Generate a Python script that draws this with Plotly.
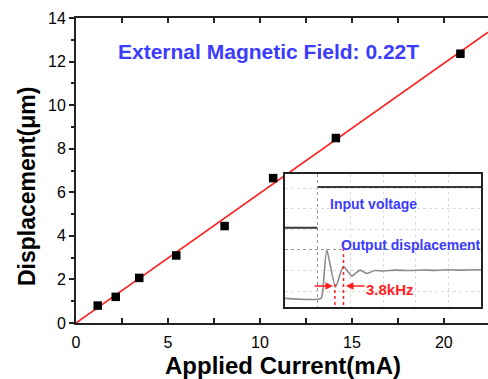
import plotly.graph_objects as go

# ---- main data ----
current_mA = [1.18, 2.16, 3.44, 5.45, 8.08, 10.72, 14.13, 20.9]
displacement_um = [0.80, 1.20, 2.07, 3.10, 4.45, 6.65, 8.49, 12.36]
fit_x = [0, 22.4]
fit_y = [0, 13.35]

x_ticks = [0, 5, 10, 15, 20]
y_ticks = [0, 2, 4, 6, 8, 10, 12, 14]

# ---- inset (oscilloscope) data, in screen divisions ----
input_x = [-1.02, -0.02, None, 0.0, 5.02]
input_y = [1.08, 1.08, None, 3.06, 3.06]
output_x = [-1.02, 0.09, 0.15, 0.27, 0.54, 0.78, 1.04, 1.29, 1.50, 1.75, 2.0, 2.4, 2.8, 3.2, 3.6, 4.0, 4.4, 4.8, 5.02]
output_y = [-2.35, -2.35, -1.94, 0.0, -1.80, -0.80, -1.26, -0.98, -1.14, -1.00, -1.02, -0.98, -1.00, -0.97, -0.99, -0.96, -0.98, -0.96, -0.97]
marker1_x = [0.52, 0.52]
marker1_y = [-2.67, -1.55]
marker2_x = [0.785, 0.785]
marker2_y = [-2.67, 0.34]
grid_major = [0]
grid_minor_x = [1, 2, 3, 4, 5]
grid_minor_y = [-2, -1, 1, 2, 3]

FONT = "Liberation Sans, Arial, sans-serif"
BLUE = "#3c3cff"
RED = "#ff1f1f"

fig = go.Figure()
fig.add_trace(go.Scatter(x=fit_x, y=fit_y, mode="lines",
                         line=dict(color=RED, width=1.6), showlegend=False))
fig.add_trace(go.Scatter(x=current_mA, y=displacement_um, mode="markers",
                         marker=dict(symbol="square", size=8.5, color="black"),
                         showlegend=False))

# inset traces
fig.add_trace(go.Scatter(x=input_x, y=input_y, xaxis="x2", yaxis="y2", mode="lines",
                         line=dict(color="#383838", width=2), showlegend=False))
fig.add_trace(go.Scatter(x=output_x, y=output_y, xaxis="x2", yaxis="y2", mode="lines",
                         line=dict(color="#8a8a8a", width=1.6, shape="spline", smoothing=0.6),
                         showlegend=False))
for mx, my in [(marker1_x, marker1_y), (marker2_x, marker2_y)]:
    fig.add_trace(go.Scatter(x=mx, y=my, xaxis="x2", yaxis="y2", mode="lines",
                             line=dict(color=RED, width=1.5, dash="dot"), showlegend=False))

annotations = [
    dict(text="<b>External Magnetic Field: 0.22T</b>", xref="paper", yref="paper",
         x=(268.5 - 76) / 412, y=(323 - 52) / 305, xanchor="center", yanchor="middle",
         showarrow=False, font=dict(family=FONT, size=21, color=BLUE)),
    dict(text="<b>Applied Current(mA)</b>", xref="paper", yref="paper",
         x=(283 - 76) / 412, y=(323 - 365) / 305, xanchor="center", yanchor="middle",
         showarrow=False, font=dict(family=FONT, size=24, color="black")),
    dict(text="<b>Displacement(μm)</b>", xref="paper", yref="paper",
         x=(27 - 76) / 412, y=(323 - 187) / 305, xanchor="center", yanchor="middle",
         textangle=-90, showarrow=False, font=dict(family=FONT, size=23, color="black")),
    dict(text="<b>Input voltage</b>", xref="x2", yref="y2", x=0.31, y=2.23,
         xanchor="left", yanchor="middle", showarrow=False,
         font=dict(family=FONT, size=14, color=BLUE)),
    dict(text="<b>Output displacement</b>", xref="x2", yref="y2", x=0.66, y=0.24,
         xanchor="left", yanchor="middle", showarrow=False,
         font=dict(family=FONT, size=14, color=BLUE)),
    dict(text="<b>3.8kHz</b>", xref="x2", yref="y2", x=2.22, y=-1.94,
         xanchor="center", yanchor="middle", showarrow=False,
         font=dict(family=FONT, size=15, color=RED)),
    dict(text="", xref="x2", yref="y2", x=0.46, y=-1.75, ax=-0.15, ay=-1.75,
         axref="x2", ayref="y2", showarrow=True, arrowhead=2, arrowsize=1,
         arrowwidth=1.5, arrowcolor=RED),
    dict(text="", xref="x2", yref="y2", x=0.86, y=-1.75, ax=1.48, ay=-1.75,
         axref="x2", ayref="y2", showarrow=True, arrowhead=2, arrowsize=1,
         arrowwidth=1.5, arrowcolor=RED),
]

fig.update_layout(
    width=488, height=379,
    margin=dict(l=76, r=0, t=18, b=56),
    paper_bgcolor="white", plot_bgcolor="white",
    font=dict(family=FONT, size=16, color="black"),
    xaxis=dict(range=[0, 22.4], tickvals=x_ticks, ticks="inside", ticklen=5, tickwidth=1.5,
               tickcolor="#222", minor=dict(dtick=2.5, ticks="inside", ticklen=5, tickwidth=1.5,
                                             tickcolor="#222"),
               showline=True, linecolor="#222", linewidth=2, mirror="ticks",
               showgrid=False, zeroline=False, ticklabelstandoff=4,
               tickfont=dict(size=16)),
    yaxis=dict(range=[0, 14], tickvals=y_ticks, ticks="outside", ticklen=5, tickwidth=1.5,
               tickcolor="#222", minor=dict(dtick=1, ticks="outside", ticklen=3, tickwidth=1.5,
                                             tickcolor="#222"),
               showline=True, linecolor="#222", linewidth=2, mirror=False,
               showgrid=False, zeroline=False, tickfont=dict(size=16)),
    yaxis3=dict(range=[0, 14], overlaying="y", side="right", anchor="x",
                tickvals=y_ticks, ticks="inside", ticklen=5, tickwidth=1.5, tickcolor="#222",
                minor=dict(dtick=1, ticks="inside", ticklen=3, tickwidth=1.5, tickcolor="#222"),
                showticklabels=False, showline=False, showgrid=False, zeroline=False),
    xaxis2=dict(domain=[(285 - 76) / 412, (481 - 76) / 412], anchor="y2",
                range=[-1.015, 5.015], tickvals=grid_major, showticklabels=False, ticks="",
                showgrid=True, gridcolor="#9a9a9a", griddash="dot", gridwidth=1,
                minor=dict(tickvals=grid_minor_x, showgrid=True, gridcolor="#dcdcdc",
                           gridwidth=1, ticks=""),
                showline=True, linecolor="#222", linewidth=2, mirror=True, zeroline=False),
    yaxis2=dict(domain=[(323 - 307) / 305, (323 - 174) / 305], anchor="x2",
                range=[-2.77, 3.69], tickvals=grid_major, showticklabels=False, ticks="",
                showgrid=True, gridcolor="#9a9a9a", griddash="dot", gridwidth=1,
                minor=dict(tickvals=grid_minor_y, showgrid=True, gridcolor="#dcdcdc",
                           gridwidth=1, ticks=""),
                showline=True, linecolor="#222", linewidth=2, mirror=True, zeroline=False),
    annotations=annotations,
)

fig.write_html("out.html")
